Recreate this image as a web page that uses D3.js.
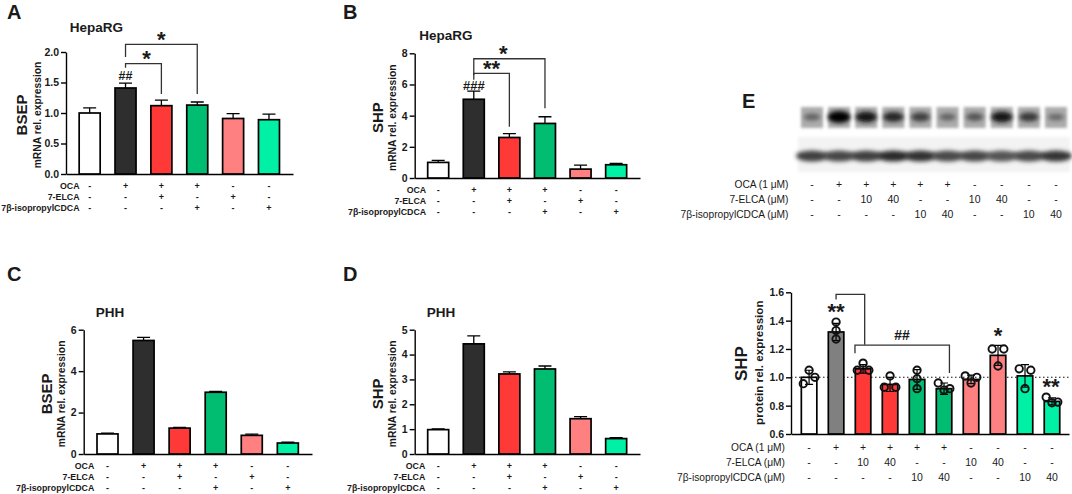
<!DOCTYPE html>
<html>
<head>
<meta charset="utf-8">
<script src="https://cdn.jsdelivr.net/npm/d3@7"></script>
<style>
  html, body { margin: 0; background: #fff; }
  svg { display: block; font-family: "Liberation Sans", Arial, sans-serif; }
  text { fill: #1a1a1a; }
</style>
</head>
<body>
<div id="chart"></div>
<script>
// values
const hepaBsep = [1.0, 1.41, 1.12, 1.13, 0.91, 0.89];
const hepaBsepErr = [0.085, 0.08, 0.09, 0.05, 0.08, 0.09];
const hepaShp = [1.0, 5.05, 2.6, 3.5, 0.57, 0.85];
const hepaShpErr = [0.13, 0.52, 0.25, 0.43, 0.25, 0.08];
const phhBsep = [0.97, 5.48, 1.25, 2.98, 0.9, 0.53];
const phhBsepErr = [0.04, 0.15, 0.03, 0.04, 0.06, 0.04];
const phhShp = [0.98, 4.43, 3.22, 3.42, 1.42, 0.62];
const phhShpErr = [0.03, 0.32, 0.08, 0.12, 0.08, 0.04];

const rowNames = ['OCA', '7-ELCA', '7β-isopropylCDCA'];
const rowSigns = [
  ['-', '+', '+', '+', '-', '-'],
  ['-', '-', '+', '-', '+', '-'],
  ['-', '-', '-', '+', '-', '+']
];
const barColors = ['#ffffff', '#2e2e2e', '#ff3838', '#00bd72', '#ff8080', '#00f0a5'];

const proteinShp = [1.0, 1.32, 1.06, 0.95, 0.985, 0.92, 0.985, 1.155, 1.01, 0.83];
const proteinErr = [0.05, 0.06, 0.03, 0.05, 0.07, 0.04, 0.03, 0.07, 0.08, 0.025];
const proteinReps = [
  [1.05, 0.955, 1.0], [1.39, 1.33, 1.27], [1.1, 1.05, 1.05], [1.01, 0.93, 0.93], [1.05, 0.99, 0.92],
  [0.96, 0.91, 0.92], [1.01, 1.0, 0.96], [1.2, 1.2, 1.08], [1.06, 1.05, 0.92], [0.86, 0.825, 0.82]
];
const proteinColors = ['#ffffff', '#808080', '#ff3838', '#ff3838', '#00bd72', '#00bd72', '#ff8080', '#ff8080', '#00f0a5', '#00f0a5'];
const proteinRowNames = ['OCA (1 μM)', '7-ELCA (μM)', '7β-isopropylCDCA (μM)'];
const proteinRows = [
  ['-', '+', '+', '+', '+', '+', '-', '-', '-', '-'],
  ['-', '-', '10', '40', '-', '-', '10', '40', '-', '-'],
  ['-', '-', '-', '-', '10', '40', '-', '-', '10', '40']
];
const shpBand = [0.3, 1.0, 0.85, 0.72, 0.55, 0.3, 0.4, 0.85, 0.6, 0.25];
const loadingBand = [0.55, 0.5, 0.55, 0.7, 0.65, 0.48, 0.5, 0.4, 0.48, 0.62];

const W = 1072, H = 494;
const svg = d3.select('#chart').append('svg').attr('width', W).attr('height', H);

const defs = svg.append('defs');
defs.append('filter').attr('id', 'blurBand').attr('x', '-30%').attr('y', '-80%').attr('width', '160%').attr('height', '260%')
  .append('feGaussianBlur').attr('stdDeviation', 2);
defs.append('filter').attr('id', 'blurBack').attr('x', '-20%').attr('y', '-20%').attr('width', '140%').attr('height', '140%')
  .append('feGaussianBlur').attr('stdDeviation', 1.4);

function label(g, x, y, txt, size, opts = {}) {
  const t = g.append('text').attr('x', x).attr('y', y).text(txt)
    .attr('font-size', size)
    .attr('font-weight', opts.weight || 'bold')
    .attr('text-anchor', opts.anchor || 'middle');
  if (opts.rotate) t.attr('transform', `rotate(-90 ${x} ${y})`);
  return t;
}

function drawAxes(g, x, y, ticks, fmt, tickFont) {
  const ya = g.append('g').attr('transform', `translate(${x.range()[0]},0)`)
    .call(d3.axisLeft(y).tickValues(ticks).tickFormat(fmt).tickSize(5).tickSizeOuter(0));
  ya.selectAll('path,line').attr('stroke', '#000').attr('stroke-width', 1.4);
  ya.selectAll('text').attr('font-size', tickFont).attr('font-weight', 'bold')
    .attr('font-family', '"Liberation Sans", Arial, sans-serif').attr('fill', '#1a1a1a').attr('dx', 1);
  const xa = g.append('g').attr('transform', `translate(0,${y.range()[0]})`)
    .call(d3.axisBottom(x).tickValues([]).tickSize(0).tickSizeOuter(0));
  xa.selectAll('path').attr('stroke', '#000').attr('stroke-width', 1.4);
}

function bracket(g, x, y, b) {
  g.append('path')
    .attr('d', d3.line()([[x(b.from), y(b.leftEnd)], [x(b.from), y(b.top)], [x(b.to), y(b.top)], [x(b.to), y(b.rightEnd)]]))
    .attr('fill', 'none').attr('stroke', '#333').attr('stroke-width', 1.3);
}

function mark(g, x, y, txt, size) {
  // the star glyph sits high in the em box, so pull it down to centre it
  label(g, x, txt.includes('*') ? y + size * 0.42 : y + size * 0.36, txt, size);
}

function mrnaPanel(p) {
  const g = svg.append('g');
  const x = d3.scaleLinear().domain([-0.66, 5.67]).range([p.left, p.right]);
  const y = d3.scaleLinear().domain([0, p.max]).range([p.base, p.top]);
  const barW = 21;

  drawAxes(g, x, y, p.ticks, p.fmt, 10.5);

  p.err.forEach((e, i) => {
    g.append('path')
      .attr('d', `M${x(i)},${y(p.values[i])}V${y(p.values[i] + e)}M${x(i) - 6.5},${y(p.values[i] + e)}H${x(i) + 6.5}`)
      .attr('stroke', '#000').attr('stroke-width', 1.3).attr('fill', 'none');
  });
  g.selectAll('rect.bar').data(p.values).join('rect').attr('class', 'bar')
    .attr('x', (d, i) => x(i) - barW / 2)
    .attr('y', d => y(d))
    .attr('width', barW)
    .attr('height', d => y(0) - y(d))
    .attr('fill', (d, i) => barColors[i])
    .attr('stroke', '#000').attr('stroke-width', 1.7);

  rowNames.forEach((name, r) => {
    const ry = p.base + 14.5 + r * 11.1;
    label(g, p.left + p.rowGap, ry, name, 8.8, { anchor: 'end' });
    rowSigns[r].forEach((s, i) => label(g, x(i), ry, s, 9));
  });

  label(g, p.titleX, p.titleY, p.title, 13.5);
  label(g, p.geneX, (p.base + p.top) / 2 + 2, p.gene, 15, { rotate: true });
  label(g, p.geneX + 13.5, (p.base + p.top) / 2 + 2, 'mRNA rel. expression', 10.3, { rotate: true });
  label(g, p.letterX, p.letterY, p.letter, 20, { anchor: 'start' });

  (p.brackets || []).forEach(b => {
    bracket(g, x, y, b);
    mark(g, x((b.from + b.to) / 2) + (b.dx || 0), y(b.top) - 6.5, b.mark, 22);
  });
  (p.marks || []).forEach(m => mark(g, x(m.at), y(m.value), m.text, m.size));
}

const fmt1 = d3.format('.1f');
const fmt0 = d3.format('d');

mrnaPanel({
  letter: 'A', letterX: 7, letterY: 18.5, title: 'HepaRG', titleX: 96.5, titleY: 32,
  gene: 'BSEP', geneX: 27, left: 66, right: 293, base: 174, top: 52, max: 2,
  ticks: [0, 0.5, 1, 1.5, 2], fmt: fmt1, rowGap: 13.5,
  values: hepaBsep, err: hepaBsepErr,
  brackets: [
    { from: 1, to: 2, top: 1.81, leftEnd: 1.74, rightEnd: 1.31, mark: '*', dx: 3 },
    { from: 1, to: 3, top: 2.125, leftEnd: 1.92, rightEnd: 1.31, mark: '*' }
  ],
  marks: [{ at: 1, value: 1.62, text: '##', size: 12.5 }]
});

mrnaPanel({
  letter: 'B', letterX: 343, letterY: 18.5, title: 'HepaRG', titleX: 446, titleY: 40,
  gene: 'SHP', geneX: 383, left: 414.7, right: 640, base: 178, top: 53.3, max: 8,
  ticks: [0, 2, 4, 6, 8], fmt: fmt0, rowGap: 11.5,
  values: hepaShp, err: hepaShpErr,
  brackets: [
    { from: 1, to: 2, top: 6.71, leftEnd: 6.3, rightEnd: 3.29, mark: '**' },
    { from: 1, to: 3, top: 7.65, leftEnd: 6.6, rightEnd: 4.47, mark: '*', dx: -6 }
  ],
  marks: [{ at: 1, value: 5.96, text: '###', size: 13 }]
});

mrnaPanel({
  letter: 'C', letterX: 7, letterY: 281, title: 'PHH', titleX: 110, titleY: 317,
  gene: 'BSEP', geneX: 52, left: 83.7, right: 312, base: 454, top: 329.7, max: 6,
  ticks: [0, 2, 4, 6], fmt: fmt0, rowGap: 10.6,
  values: phhBsep, err: phhBsepErr
});

mrnaPanel({
  letter: 'D', letterX: 343, letterY: 281, title: 'PHH', titleX: 441, titleY: 317,
  gene: 'SHP', geneX: 383, left: 414.7, right: 640, base: 454, top: 329.7, max: 5,
  ticks: [0, 1, 2, 3, 4, 5], fmt: fmt0, rowGap: 10.6,
  values: phhShp, err: phhShpErr
});

// panel E, blot
const blot = svg.append('g');
const laneX = d3.scaleLinear().domain([0, 9]).range([812, 1056]);
const bandTone = d3.scaleLinear().domain([0, 1]).range(['#8c8c8c', '#000000']);

label(blot, 742, 108, 'E', 20, { anchor: 'start' });

blot.append('rect').attr('x', 798).attr('y', 137).attr('width', 272).attr('height', 35)
  .attr('fill', '#f3f3f3').attr('filter', 'url(#blurBack)');
shpBand.forEach((v, i) => {
  blot.append('rect').attr('x', laneX(i) - 11).attr('y', 107).attr('width', 22).attr('height', 21)
    .attr('fill', '#acacac').attr('filter', 'url(#blurBack)');
  blot.append('ellipse').attr('cx', laneX(i)).attr('cy', 117).attr('rx', 7 + v * 4.5).attr('ry', 2.5 + v * 3.5)
    .attr('fill', bandTone(v)).attr('filter', 'url(#blurBand)');
});
loadingBand.forEach((v, i) => {
  blot.append('ellipse').attr('cx', laneX(i)).attr('cy', 156).attr('rx', 16).attr('ry', 5.5)
    .attr('fill', bandTone(v)).attr('filter', 'url(#blurBand)');
});

proteinRowNames.forEach((name, r) => {
  const ry = 187.5 + r * 15;
  label(blot, 788.5, ry, name, 10.2, { anchor: 'end', weight: 'normal' });
  proteinRows[r].forEach((s, i) => label(blot, laneX(i), ry, s, 10.5, { weight: 'normal' }));
});

// panel E, bars
const ge = svg.append('g');
const ex = d3.scaleLinear().domain([-0.67, 9.63]).range([791, 1069]);
const ey = d3.scaleLinear().domain([0.6, 1.6]).range([434, 292.3]);

drawAxes(ge, ex, ey, [0.6, 0.8, 1.0, 1.2, 1.4, 1.6], fmt1, 10.5);

ge.append('line').attr('x1', ex.range()[0]).attr('x2', ex.range()[1]).attr('y1', ey(1)).attr('y2', ey(1))
  .attr('stroke', '#111').attr('stroke-width', 1.1).attr('stroke-dasharray', '1.5 2.5');

const eBarW = 15.5;
ge.selectAll('rect.bar').data(proteinShp).join('rect').attr('class', 'bar')
  .attr('x', (d, i) => ex(i) - eBarW / 2)
  .attr('y', d => ey(d))
  .attr('width', eBarW)
  .attr('height', d => ey(0.6) - ey(d))
  .attr('fill', (d, i) => proteinColors[i])
  .attr('stroke', '#000').attr('stroke-width', 1.7);

proteinErr.forEach((e, i) => {
  const v = proteinShp[i];
  ge.append('path')
    .attr('d', `M${ex(i)},${ey(v - e)}V${ey(v + e)}M${ex(i) - 4},${ey(v + e)}H${ex(i) + 4}M${ex(i) - 4},${ey(v - e)}H${ex(i) + 4}`)
    .attr('stroke', '#000').attr('stroke-width', 1.2).attr('fill', 'none');
});

// replicates closer than a dot's overlap limit are spread sideways
function spread(vals) {
  const limit = 6.5;
  const groups = [];
  vals.forEach(v => {
    const hit = groups.find(gr => gr.some(o => Math.abs(ey(o) - ey(v)) < limit));
    if (hit) hit.push(v); else groups.push([v]);
  });
  const out = [];
  groups.forEach(gr => {
    const sides = gr.length === 1 ? [0] : gr.length === 2 ? [-1, 1] : [-1, 1, 0];
    gr.forEach((v, k) => out.push({ v, side: sides[k] }));
  });
  return out;
}
proteinReps.forEach((reps, i) => {
  ge.selectAll(null).data(spread(reps)).join('circle')
    .attr('cx', d => ex(i) + d.side * 5.8)
    .attr('cy', d => ey(d.v))
    .attr('r', 3.7)
    .attr('fill', 'none').attr('stroke', '#111').attr('stroke-width', 1.9);
});

bracket(ge, ex, ey, { from: 1, to: 2.06, top: 1.585, leftEnd: 1.55, rightEnd: 1.23 });
bracket(ge, ex, ey, { from: 1.7, to: 5.2, top: 1.227, leftEnd: 1.17, rightEnd: 1.03 });
mark(ge, ex(1), ey(1.48), '**', 22);
mark(ge, ex(7), ey(1.31), '*', 22);
mark(ge, ex(9) - 1, ey(0.95), '**', 22);
mark(ge, 902, ey(1.3), '##', 14);

proteinRowNames.forEach((name, r) => {
  const ry = 450.5 + r * 15.2;
  label(ge, 785, ry, name, 10.2, { anchor: 'end', weight: 'normal' });
  proteinRows[r].forEach((s, i) => label(ge, ex(i), ry, s, 10.5, { weight: 'normal' }));
});
label(ge, 746.7, 363.5, 'SHP', 17, { rotate: true });
label(ge, 762.7, 362.7, 'protein rel. expression', 11.6, { rotate: true });
</script>
</body>
</html>
